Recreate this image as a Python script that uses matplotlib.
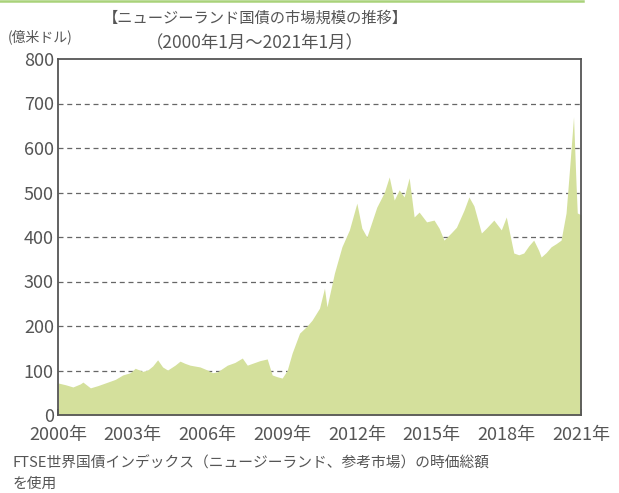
import matplotlib
matplotlib.use("Agg")
from matplotlib import pyplot as plt
from matplotlib.lines import Line2D

plt.rcParams['font.family'] = ['Noto Sans CJK JP', 'DejaVu Sans']

# decimal year, market size (100 million USD)
years = [
    2000.0, 2000.3, 2000.6, 2000.9, 2001.0, 2001.3, 2001.6, 2002.0, 2002.3, 2002.6,
    2002.9, 2003.1, 2003.4, 2003.6, 2003.8, 2004.0, 2004.2, 2004.4, 2004.7, 2004.9,
    2005.1, 2005.3, 2005.7, 2006.0, 2006.2, 2006.4, 2006.8, 2007.1, 2007.4, 2007.6,
    2007.9, 2008.1, 2008.4, 2008.6, 2008.8, 2009.0, 2009.2, 2009.4, 2009.7, 2010.0,
    2010.2, 2010.5, 2010.7, 2010.8, 2011.1, 2011.4, 2011.7, 2012.0, 2012.2, 2012.4,
    2012.8, 2013.1, 2013.3, 2013.5, 2013.7, 2013.9, 2014.1, 2014.3, 2014.5, 2014.8,
    2015.1, 2015.3, 2015.5, 2015.8, 2016.0, 2016.3, 2016.5, 2016.7, 2017.0, 2017.2,
    2017.5, 2017.8, 2018.0, 2018.3, 2018.5, 2018.7, 2018.9, 2019.1, 2019.3, 2019.4,
    2019.6, 2019.8, 2020.0, 2020.2, 2020.4, 2020.55, 2020.7, 2020.8, 2020.85, 2021.0,
]
values = [
    72, 68, 63, 70, 74, 61, 66, 74, 80, 90,
    95, 105, 98, 101, 110, 124, 108, 101, 112, 121,
    116, 112, 108, 101, 95, 97, 112, 118, 128, 112,
    118, 122, 126, 90, 86, 83, 100, 139, 184, 200,
    213, 240, 285, 243, 319, 378, 416, 476, 420, 400,
    467, 500, 535, 483, 506, 490, 533, 445, 456, 434,
    438, 420, 393, 410, 422, 460, 490, 470, 409, 420,
    438, 416, 445, 364, 360, 364, 380, 393, 370, 355,
    365, 378, 385, 393, 454, 560, 670, 520, 454, 450,
]

xticks = [2000, 2003, 2006, 2009, 2012, 2015, 2018, 2021]
xlabels = [f"{y}年" for y in xticks]
yticks = list(range(0, 801, 100))

text_color = "#555555"
fill_color = "#d4e09c"

fig = plt.figure(figsize=(6.19, 4.93), dpi=100)
ax = fig.add_axes([58 / 619, 1 - 415 / 493, 523 / 619, 356 / 493])

for y in yticks[1:-1]:
    ax.axhline(y, color="#666666", linestyle=(0, (4, 3)), linewidth=0.9, zorder=1)

ax.fill_between(years, values, 0, color=fill_color, linewidth=0, zorder=2)

ax.set_xlim(2000, 2021)
ax.set_ylim(0, 800)
ax.set_xticks(xticks)
ax.set_xticklabels(xlabels)
ax.set_yticks(yticks)
ax.tick_params(axis="both", direction="in", length=4, width=1.2, colors="#444444",
               labelcolor=text_color, labelsize=13)
ax.tick_params(axis="x", pad=8)
ax.tick_params(axis="y", pad=3, length=0)
for s in ax.spines.values():
    s.set_color("#555555")
    s.set_linewidth(1.3)
    s.set_zorder(3)

fig.text(0.412, 0.962, "【ニュージーランド国債の市場規模の推移】", ha="center", va="center",
         fontsize=11, color=text_color)
fig.text(0.412, 0.913, "（2000年1月～2021年1月）", ha="center", va="center",
         fontsize=12.5, color=text_color)
fig.text(8 / 619, 0.925, "(億米ドル)", ha="left", va="center", fontsize=10, color=text_color)
fig.text(13 / 619, 1 - 463 / 493, "FTSE世界国債インデックス（ニュージーランド、参考市場）の時価総額",
         ha="left", va="center", fontsize=10.6, color=text_color)
fig.text(13 / 619, 1 - 484 / 493, "を使用", ha="left", va="center", fontsize=10.6, color=text_color)

# green frame line at the top
fig.add_artist(Line2D([0, 583 / 619], [0.997, 0.997], color="#a9d27a", linewidth=1.8))

plt.savefig("out.png", dpi=100)
